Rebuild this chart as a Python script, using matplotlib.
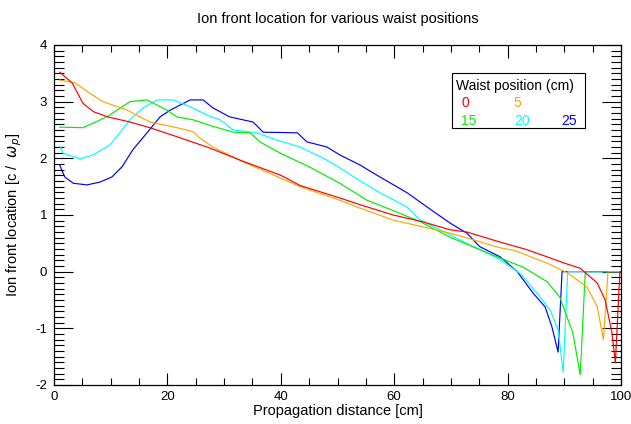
import numpy as np
import matplotlib
matplotlib.use("Agg")
import matplotlib.pyplot as plt
from matplotlib.ticker import MultipleLocator
from matplotlib.patches import Rectangle

plt.rcParams['font.family'] = ['Liberation Sans', 'DejaVu Sans']
plt.rcParams['axes.unicode_minus'] = False

# waist position 0 cm
x_w0 = [1, 3.2, 5.1, 7, 9.5, 13.4, 16.9, 21.7, 27.5, 33, 40, 43.4, 50.4, 54, 59.8, 65, 69.8,
        72.8, 78.7, 83, 87, 90, 92.8, 95.8, 97.2, 98.4, 99, 99.8, 100]
y_w0 = [3.52, 3.33, 2.97, 2.82, 2.73, 2.64, 2.54, 2.38, 2.18, 1.96, 1.7, 1.52, 1.3, 1.18, 1.0, 0.88, 0.74,
        0.7, 0.52, 0.4, 0.26, 0.15, 0.06, -0.2, -0.5, -1.08, -1.61, 0, 0]
# waist position 5 cm
x_w5 = [1, 3.7, 6.3, 8.6, 12.9, 16.9, 21.7, 24.5, 25.7, 28, 33.3, 43.4, 50.4, 54, 59.8, 64.6, 69.8,
        74, 78.7, 81, 87, 90.5, 94, 95.8, 96.9, 97.7, 100]
y_w5 = [3.38, 3.33, 3.15, 3.0, 2.85, 2.64, 2.54, 2.47, 2.36, 2.2, 1.94, 1.5, 1.26, 1.12, 0.91, 0.8, 0.68,
        0.56, 0.42, 0.38, 0.15, -0.02, -0.27, -0.62, -1.2, 0, 0]
# waist position 15 cm
x_w15 = [1, 5.1, 9.3, 13.4, 16.4, 19.9, 21.7, 24.5, 27.5, 31.6, 34.6, 36.3, 39.9, 45, 50.4, 55.2, 60,
         64.6, 70, 73.9, 78.7, 82.7, 87, 89.2, 91.5, 92.8, 93.7, 100]
y_w15 = [2.55, 2.54, 2.73, 3.0, 3.03, 2.85, 2.73, 2.68, 2.58, 2.46, 2.45, 2.29, 2.09, 1.85, 1.56, 1.26, 1.07,
         0.88, 0.6, 0.44, 0.24, 0.08, -0.18, -0.45, -1.08, -1.82, 0, 0]
# waist position 20 cm
x_w20 = [1, 1.6, 4.6, 6.9, 9.9, 11.6, 13.4, 15.7, 18.2, 21, 24, 27.5, 29.3, 31.6, 35.8, 39.3, 43.4,
         48.1, 50.4, 54, 57.5, 62.3, 64.6, 69.3, 73.9, 76.4, 78.7, 82.2, 85.2, 87.5, 88.9, 89.8, 90.6, 100]
y_w20 = [2.22, 2.09, 1.99, 2.06, 2.24, 2.45, 2.68, 2.89, 3.03, 3.03, 2.91, 2.74, 2.68, 2.5, 2.45, 2.32, 2.2,
         1.97, 1.83, 1.6, 1.39, 1.14, 0.91, 0.68, 0.44, 0.33, 0.21, -0.03, -0.38, -0.68, -1.03, -1.77, 0, 0]
# waist position 25 cm
x_w25 = [1, 1.9, 3.4, 5.8, 8.1, 10.2, 12, 13.9, 16.4, 18.7, 20.5, 24, 26.3, 28, 31, 35.1, 36.9, 42.9,
         44.6, 48.1, 50.4, 54, 56.3, 62.3, 65.8, 69.8, 72.8, 75.1, 78.7, 81.7, 84.5, 86.6, 87.8, 88.9, 89.6, 100]
y_w25 = [1.88, 1.67, 1.56, 1.53, 1.58, 1.67, 1.85, 2.15, 2.45, 2.73, 2.85, 3.03, 3.03, 2.89, 2.73, 2.64, 2.46, 2.45,
         2.29, 2.2, 2.06, 1.88, 1.74, 1.39, 1.14, 0.86, 0.68, 0.44, 0.26, 0.0, -0.38, -0.62, -0.97, -1.42, 0, 0]

waists = ["0", "5", "15", "20", "25"]
colors = ["#ff0000", "#ffa500", "#00ee00", "#00ffff", "#0000ff"]
series = [(x_w0, y_w0), (x_w5, y_w5), (x_w15, y_w15), (x_w20, y_w20), (x_w25, y_w25)]

fig = plt.figure(figsize=(6.31, 4.24), dpi=100)
ax = fig.add_axes([0.0856, 0.092, 0.8986, 0.802])

# drawn from last to first so the smaller waists end up on top
for (xs, ys), c in list(zip(series, colors))[::-1]:
    ax.plot(xs, ys, color=c, lw=0.85)

ax.set_xlim(0, 100)
ax.set_ylim(-2, 4)
ax.xaxis.set_major_locator(MultipleLocator(20))
ax.xaxis.set_minor_locator(MultipleLocator(5))
ax.yaxis.set_major_locator(MultipleLocator(1))
ax.yaxis.set_minor_locator(MultipleLocator(0.1))
ax.tick_params(axis="both", which="both", direction="in", top=True, right=True,
               labelsize=9.5, width=0.8)
ax.tick_params(axis="x", which="major", length=9, pad=4)
ax.tick_params(axis="x", which="minor", length=5)
ax.tick_params(axis="y", which="major", length=14, pad=5)
ax.tick_params(axis="y", which="minor", length=7)
for s in ax.spines.values():
    s.set_linewidth(0.9)

ax.set_title("Ion front location for various waist positions", fontsize=10.5, pad=16)
ax.set_xlabel("Propagation distance [cm]", fontsize=10.5, labelpad=1)
ax.set_ylabel(r"Ion front location [c /  $\omega_p$]", fontsize=10.5, labelpad=8)

# legend box
ax.add_patch(Rectangle((0.702, 0.756), 0.235, 0.162, transform=ax.transAxes,
                       fill=False, edgecolor="black", lw=0.8, zorder=5))
ax.text(0.709, 0.878, "Waist position (cm)", transform=ax.transAxes, fontsize=10,
        va="center", ha="left", zorder=6)
col_x = [0.718, 0.811, 0.894]
pos = [(0, 0), (1, 0), (0, 1), (1, 1), (2, 1)]
row_y = [0.83, 0.777]
for (ci, ri), w, c in zip(pos, waists, colors):
    ax.text(col_x[ci], row_y[ri], w, color=c, transform=ax.transAxes, fontsize=10,
            va="center", ha="left", zorder=6)

plt.savefig("out.png", dpi=100, facecolor="white")
